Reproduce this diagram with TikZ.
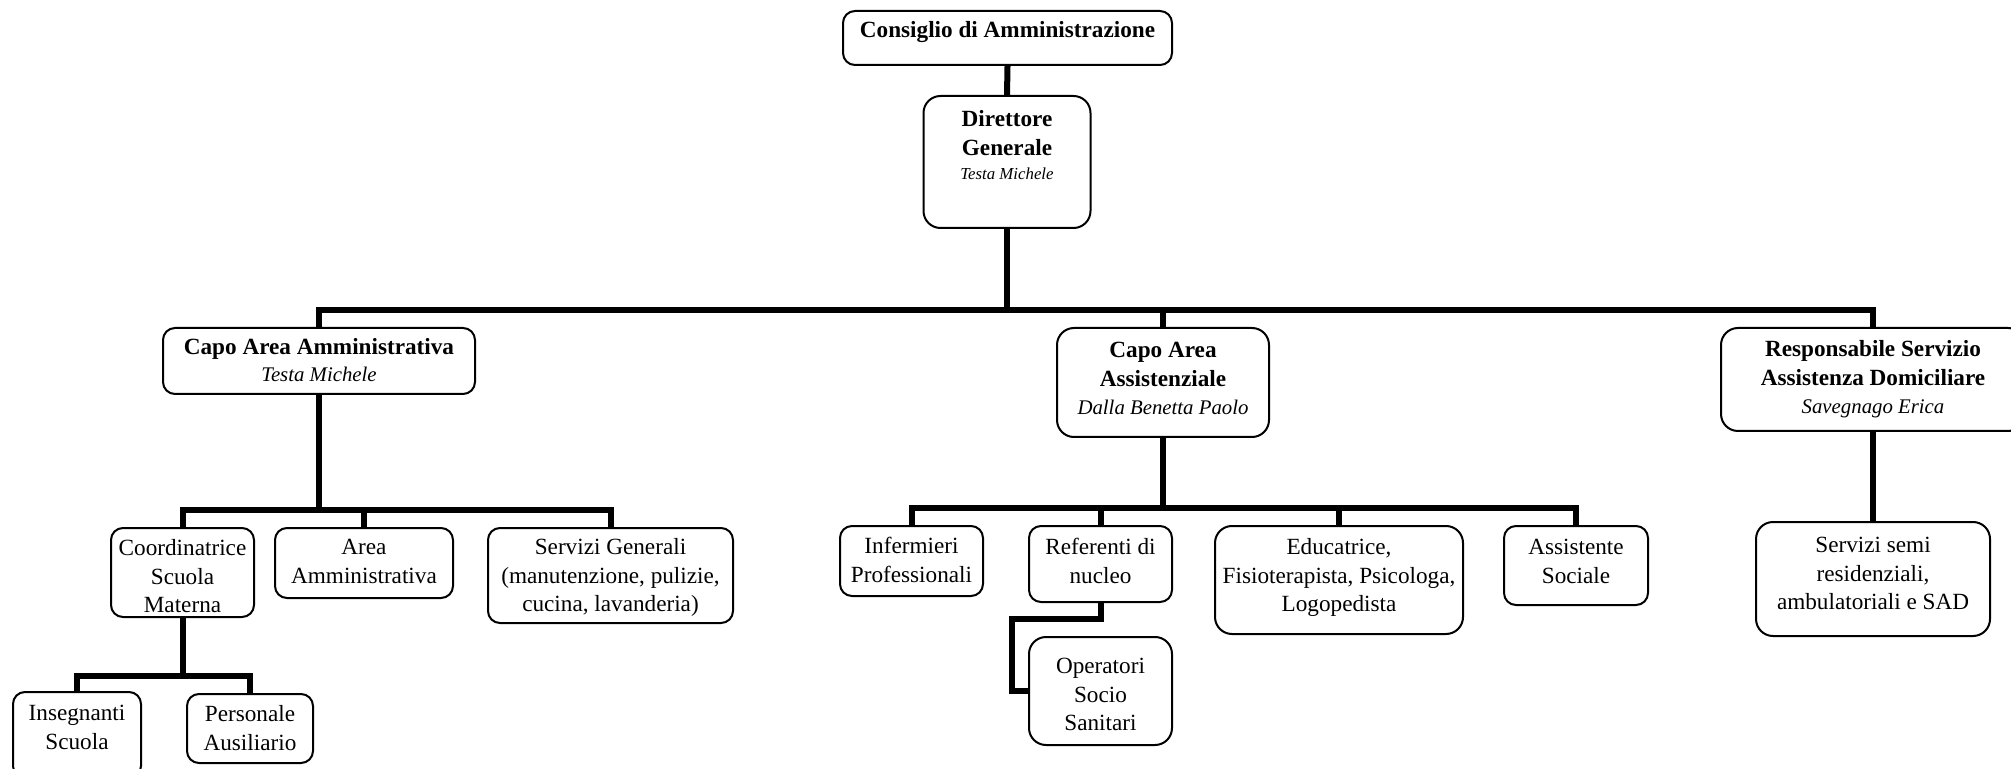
\documentclass[tikz,border=0pt]{standalone}
\usepackage{fontspec}
\setmainfont{Liberation Serif}

\newdimen\px \px=0.5pt
% box text: width, height, gap above first line, lines
\newcommand{\orgtxt}[4]{\parbox[c][#2\px][t]{#1\px}{\centering\fontsize{11.6}{14.25}\selectfont\vspace*{#3\px}\strut #4}}
\newcommand{\who}[1]{{\itshape\fontsize{10.4}{14.25}\selectfont #1}}

\begin{document}
\begin{tikzpicture}[x=0.5pt,y=-0.5pt,
        orgbox/.style={draw,line width=1pt,rounded corners=6pt,inner sep=0pt},
        bigbox/.style={orgbox,rounded corners=8.5pt},
        wire/.style={line width=3pt}]
        % page frame
        \useasboundingbox (0,0) rectangle (2011,769);
        \clip (0,0) rectangle (2011,769);

        % top of the chart
        \node[orgbox] (cda) at (1007.5,38) {\orgtxt{329}{54}{7}{\textbf{Consiglio di Amministrazione}}};
        \node[bigbox] (dg) at (1007,162) {\orgtxt{167}{132}{11}{\textbf{Direttore}\\\textbf{Generale}\\[-2.25pt]{\itshape\fontsize{8.4}{14.25}\selectfont Testa Michele}}};

        % area heads
        \node[orgbox] (cam) at (319,361) {\orgtxt{312}{66}{7}{\textbf{Capo Area Amministrativa}\\[-0.75pt]\who{Testa Michele}}};
        \node[bigbox] (caa) at (1163,382.5) {\orgtxt{212}{109}{10}{\textbf{Capo Area}\\\textbf{Assistenziale}\\\who{Dalla Benetta Paolo}}};
        \node[bigbox] (rsad) at (1873,379.5) {\orgtxt{304}{103}{9}{\textbf{Responsabile Servizio}\\\textbf{Assistenza Domiciliare}\\\who{Savegnago Erica}}};

        % administrative area
        \node[orgbox] (csm) at (182.5,572.5) {\orgtxt{143}{89}{8}{Coordinatrice\\Scuola\\Materna}};
        \node[orgbox] (aam) at (364,563) {\orgtxt{178}{70}{7}{Area\\Amministrativa}};
        \node[orgbox] (sgen) at (610.5,575.5) {\orgtxt{245}{95}{7}{Servizi Generali\\(manutenzione, pulizie,\\cucina, lavanderia)}};
        \node[orgbox] (is) at (77,735) {\orgtxt{128}{86}{9}{Insegnanti\\Scuola}};
        \node[orgbox] (pa) at (250,728.5) {\orgtxt{126}{69}{8}{Personale\\Ausiliario}};

        % care area
        \node[orgbox] (ip) at (911.5,561) {\orgtxt{143}{70}{8}{Infermieri\\Professionali}};
        \node[orgbox] (rn) at (1100.5,564) {\orgtxt{143}{76}{9}{Referenti di\\nucleo}};
        \node[bigbox] (oss) at (1100.5,691) {\orgtxt{143}{108}{17}{Operatori\\Socio\\Sanitari}};
        \node[bigbox] (efpl) at (1339,580) {\orgtxt{248}{108}{9}{Educatrice,\\Fisioterapista, Psicologa,\\Logopedista}};
        \node[orgbox] (as) at (1576,565.5) {\orgtxt{144}{79}{9}{Assistente\\Sociale}};

        % home care
        \node[bigbox] (ssr) at (1873,579) {\orgtxt{234}{114}{11}{Servizi semi\\residenziali,\\ambulatoriali e SAD}};

        % bus lines
        \coordinate (bus0) at (0,310);
        \coordinate (bus1) at (0,510);
        \coordinate (bus2) at (0,676);
        \coordinate (bus3) at (0,508);
        \coordinate (rnbend) at (1012,619);

        \draw[wire] (cda.south) -- (dg.north);
        \draw[wire] (dg.south) -- (dg.south |- bus0);
        \foreach \k in {cam,caa,rsad}
                \draw[wire] (dg.south |- bus0) -| (\k.north);

        \draw[wire] (cam.south) -- (cam.south |- bus1);
        \foreach \k in {csm,aam,sgen}
                \draw[wire] (cam.south |- bus1) -| (\k.north);

        \draw[wire] (csm.south) -- (csm.south |- bus2);
        \foreach \k in {is,pa}
                \draw[wire] (csm.south |- bus2) -| (\k.north);

        \draw[wire] (caa.south) -- (caa.south |- bus3);
        \foreach \k in {ip,rn,efpl,as}
                \draw[wire] (caa.south |- bus3) -| (\k.north);

        \draw[wire] (rn.south) |- (rnbend) |- (oss.west);
        \draw[wire] (rsad.south) -- (ssr.north);
\end{tikzpicture}
\end{document}
